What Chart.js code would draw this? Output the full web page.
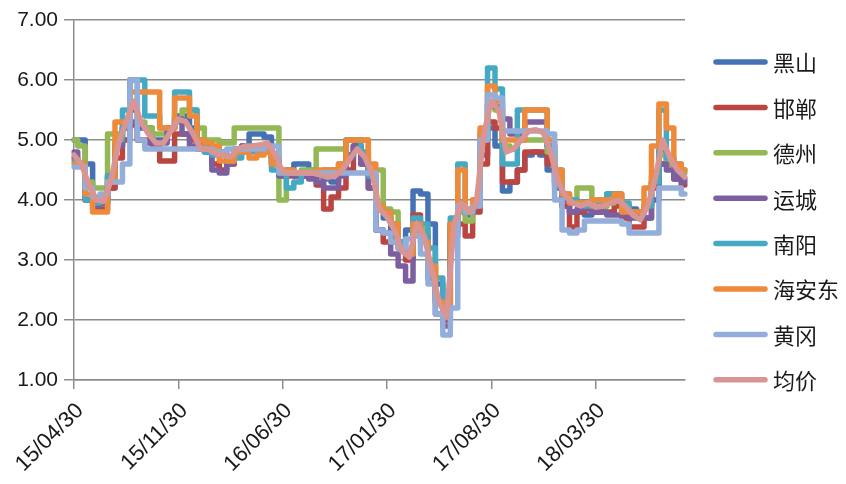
<!DOCTYPE html>
<html>
<head>
<meta charset="utf-8">
<script src="https://cdn.jsdelivr.net/npm/chart.js@4/dist/chart.umd.min.js"></script>
<style>
  html, body { margin: 0; padding: 0; background: #fff; }
  #wrap { width: 846px; height: 484px; position: relative; }
</style>
</head>
<body>
<div id="wrap"><canvas id="priceChart"></canvas></div>
<script>
// ── Data: semi-monthly samples, 15/04/30 .. 18/09/30 ──────────────
const LABELS = [
  '15/04/30','15/05/15','15/05/30','15/06/15','15/06/30','15/07/15','15/07/30','15/08/15','15/08/30','15/09/15',
  '15/09/30','15/10/15','15/10/30','15/11/15','15/11/30','15/12/15','15/12/30','16/01/15','16/01/30','16/02/15',
  '16/02/28','16/03/15','16/03/30','16/04/15','16/04/30','16/05/15','16/05/30','16/06/15','16/06/30','16/07/15',
  '16/07/30','16/08/15','16/08/30','16/09/15','16/09/30','16/10/15','16/10/30','16/11/15','16/11/30','16/12/15',
  '16/12/30','17/01/15','17/01/30','17/02/15','17/02/28','17/03/15','17/03/30','17/04/15','17/04/30','17/05/15',
  '17/05/30','17/06/15','17/06/30','17/07/15','17/07/30','17/08/15','17/08/30','17/09/15','17/09/30','17/10/15',
  '17/10/30','17/11/15','17/11/30','17/12/15','17/12/30','18/01/15','18/01/30','18/02/15','18/02/28','18/03/15',
  '18/03/30','18/04/15','18/04/30','18/05/15','18/05/30','18/06/15','18/06/30','18/07/15','18/07/30','18/08/15',
  '18/08/30','18/09/15','18/09/30'
];
const TICK_LABELS = ['15/04/30','15/11/30','16/06/30','17/01/30','17/08/30','18/03/30'];

const SERIES_NAMES = ['黑山','邯郸','德州','运城','南阳','海安东','黄冈','均价'];

const HEISHAN = [
  5.0, 5.0, 4.6, 4.0, 3.95, 4.2, 4.9, 5.2, 5.5, 5.2,
  5.2, 5.0, 5.0, 5.2, 5.4, 5.4, 5.2, 5.0, 4.9, 4.8,
  4.8, 4.7, 4.85, 4.9, 5.1, 5.1, 5.05, 4.7, 4.4, 4.5,
  4.6, 4.6, 4.5, 4.4, 4.35, 4.3, 4.5, 4.75, 4.9, 4.7,
  4.4, 3.9, 3.7, 3.4, 3.3, 3.5, 4.15, 4.1, 3.6, 2.6,
  2.0, 3.4, 3.9, 3.75, 3.9, 4.75, 5.2, 4.9, 4.15, 4.3,
  4.5, 4.75, 4.8, 4.75, 4.5, 4.2, 3.9, 3.8, 3.8, 3.75,
  3.8, 3.9, 4.1, 4.1, 3.9, 3.85, 3.8, 3.9, 4.3, 4.8,
  4.6, 4.4, 4.35
];
const HANDAN = [
  4.7, 4.6, 4.0, 3.85, 3.85, 4.2, 4.7, 5.0, 5.25, 5.0,
  5.0, 4.9, 4.65, 4.65, 5.1, 5.1, 5.0, 4.9, 4.85, 4.6,
  4.5, 4.6, 4.8, 4.8, 4.85, 4.85, 4.9, 4.7, 4.45, 4.4,
  4.4, 4.4, 4.4, 4.25, 3.85, 4.05, 4.2, 4.5, 4.9, 4.6,
  4.2, 3.5, 3.3, 3.3, 3.2, 3.0, 3.75, 3.5, 2.9, 2.3,
  2.0, 3.6, 3.6, 3.4, 3.8, 4.6, 5.3, 5.2, 4.3, 4.3,
  4.5, 4.8, 4.8, 4.8, 4.6, 4.3, 3.9, 3.55, 3.8, 3.85,
  3.8, 3.8, 3.8, 3.9, 3.7, 3.55, 3.55, 3.7, 4.2, 4.6,
  4.6, 4.35, 4.25
];
const DEZHOU = [
  5.0, 4.9, 4.3, 4.2, 4.2, 5.1, 5.1, 5.3, 6.0, 5.3,
  5.2, 5.1, 5.1, 5.2, 5.3, 5.5, 5.5, 5.2, 5.0, 5.0,
  4.95, 4.95, 5.2, 5.2, 5.2, 5.2, 5.2, 5.2, 4.0, 4.45,
  4.45, 4.5, 4.5, 4.85, 4.85, 4.85, 4.85, 5.0, 5.0, 5.0,
  4.5, 4.5, 3.85, 3.8, 3.3, 3.1, 3.6, 3.5, 3.0, 2.4,
  2.05, 3.6, 3.8, 3.65, 3.9, 5.0, 5.6, 5.5, 4.9, 4.85,
  5.0, 5.0, 5.0, 5.0, 4.8, 4.4, 4.05, 4.0, 4.2, 4.2,
  4.0, 3.9, 3.95, 4.0, 3.9, 3.8, 3.7, 3.9, 4.4, 4.75,
  4.6, 4.5, 4.45
];
const YUNCHENG = [
  4.8, 4.6, 4.0, 3.9, 3.95, 4.4, 4.9, 5.2, 5.3, 5.0,
  4.95, 4.95, 4.95, 5.2, 5.35, 5.1, 4.9, 4.85, 4.8, 4.5,
  4.45, 4.6, 4.8, 4.9, 4.9, 4.9, 4.9, 4.6, 4.4, 4.45,
  4.4, 4.4, 4.35, 4.3, 4.2, 4.2, 4.4, 4.7, 4.9, 4.6,
  4.2, 3.5, 3.45, 3.1, 2.9, 2.65, 3.5, 3.4, 2.7, 2.1,
  1.9, 3.5, 3.95, 3.8, 3.9, 5.0, 5.6, 5.55, 5.35, 5.1,
  5.1, 5.3, 5.3, 5.3, 4.9, 4.3, 4.0, 3.8, 3.85, 3.9,
  3.8, 3.8, 3.75, 3.75, 3.75, 3.7, 3.7, 3.7, 4.0, 4.6,
  4.5, 4.35, 4.3
];
const NANYANG = [
  4.65, 4.6, 4.0, 3.95, 4.0, 4.4, 5.0, 5.5, 6.0, 6.0,
  5.4, 5.4, 5.2, 5.2, 5.8, 5.8, 5.5, 5.0, 4.8, 4.75,
  4.75, 4.65, 4.7, 4.8, 4.8, 4.8, 4.8, 4.5, 4.45, 4.2,
  4.3, 4.45, 4.45, 4.45, 4.5, 4.5, 4.6, 5.0, 5.0, 4.8,
  4.4, 3.9, 3.8, 3.6, 3.3, 3.1, 3.7, 3.6, 3.2, 2.7,
  2.1, 3.7, 4.6, 3.8, 4.0, 5.1, 6.2, 5.85, 4.6, 4.6,
  5.5, 5.5, 5.5, 5.5, 4.9, 4.5, 4.1, 4.0, 3.95, 3.9,
  3.9, 4.0, 4.1, 4.0, 3.95, 3.8, 3.8, 3.9, 4.3, 5.5,
  4.7, 4.6, 4.5
];
const HAIANDONG = [
  4.6, 4.6, 4.1, 3.8, 3.8, 4.3, 5.3, 5.3, 5.8, 5.8,
  5.8, 5.8, 5.2, 5.2, 5.7, 5.7, 5.4, 5.0, 4.95, 4.9,
  4.65, 4.65, 4.8, 4.8, 4.7, 4.75, 4.8, 4.6, 4.5, 4.5,
  4.45, 4.45, 4.45, 4.5, 4.5, 4.5, 4.6, 5.0, 5.0, 5.0,
  4.6, 3.9, 3.8, 3.6, 3.2, 3.1, 3.6, 3.3, 2.9, 2.3,
  2.15, 3.6, 4.5, 3.85, 4.0, 5.2, 5.9, 5.65, 5.0, 5.0,
  5.0, 5.5, 5.5, 5.5, 5.0, 4.5, 4.1, 3.95, 3.95, 3.95,
  4.0, 4.0, 4.0, 4.1, 3.8, 3.8, 3.8, 4.2, 4.9, 5.6,
  5.2, 4.6, 4.5
];
const HUANGGANG = [
  4.55, 4.55, 4.2, 4.05, 4.1, 4.3, 4.3, 4.6, 6.0, 5.0,
  4.85, 4.85, 4.85, 4.85, 4.85, 4.85, 4.85, 4.85, 4.85, 4.8,
  4.8, 4.85, 4.85, 4.85, 4.85, 4.85, 4.9, 4.9, 4.45, 4.45,
  4.45, 4.45, 4.45, 4.45, 4.45, 4.45, 4.45, 4.45, 4.45, 4.45,
  4.45, 3.5, 3.45, 3.3, 3.2, 3.35, 3.4, 3.1, 2.6, 2.1,
  1.75, 2.2, 3.9, 3.8, 3.9, 5.0, 5.75, 5.7, 5.15, 5.15,
  5.15, 5.15, 5.15, 5.15, 5.1, 4.0, 3.5, 3.45, 3.5, 3.65,
  3.65, 3.65, 3.65, 3.65, 3.6, 3.45, 3.45, 3.45, 3.45, 4.2,
  4.2, 4.2, 4.1
];
const JUNJIA = [
  4.75, 4.6, 4.25, 4.0, 3.98, 4.35, 4.95, 5.3, 5.65, 5.3,
  5.1, 4.95, 4.95, 5.15, 5.35, 5.3, 5.1, 4.85, 4.85, 4.77,
  4.75, 4.72, 4.85, 4.9, 4.9, 4.92, 4.95, 4.75, 4.47, 4.45,
  4.45, 4.45, 4.45, 4.42, 4.38, 4.4, 4.5, 4.68, 4.85, 4.72,
  4.45, 3.85, 3.72, 3.5, 3.15, 3.05, 3.6, 3.4, 2.85, 2.3,
  2.05, 3.6, 3.95, 3.8, 3.95, 5.1, 5.65, 5.5, 4.8, 4.85,
  5.0, 5.15, 5.17, 5.12, 4.78, 4.3, 4.05, 3.95, 3.9, 3.95,
  3.88, 3.9, 3.95, 4.0, 3.9, 3.75, 3.67, 3.9, 4.35, 5.0,
  4.7, 4.5, 4.38
];

const SERIES = [HEISHAN, HANDAN, DEZHOU, YUNCHENG, NANYANG, HAIANDONG, HUANGGANG, JUNJIA];
const COLORS = ['#4472B4','#BB4541','#93B855','#7B5FA0','#45A9C4','#EF8A3A','#93AEDA','#D99593'];

const GRID = '#8c8c8c';
const TEXT = '#1a1a1a';
const NUM_FONT = { family: '"Liberation Sans", Arial, sans-serif', size: 21 };
const LINE_W = 5.5;

// ── Legend drawn on the right, one row per series ─────────────────
const sideLegend = {
  id: 'sideLegend',
  afterDraw(chart) {
    const c = chart.ctx;
    c.save();
    c.font = '22px "Noto Sans CJK SC", sans-serif';
    c.textBaseline = 'middle';
    c.textAlign = 'left';
    chart.data.datasets.forEach((ds, i) => {
      const y = 62 + i * 45.4;
      c.strokeStyle = ds.borderColor;
      c.lineWidth = LINE_W;
      c.lineCap = 'round';
      c.beginPath();
      c.moveTo(716, y);
      c.lineTo(765, y);
      c.stroke();
      c.fillStyle = TEXT;
      c.fillText(ds.label, 773, y + 1);
    });
    c.restore();
  }
};

new Chart(document.getElementById('priceChart'), {
  type: 'line',
  data: {
    labels: LABELS,
    datasets: SERIES.map((vals, i) => ({
      label: SERIES_NAMES[i],
      data: vals,
      borderColor: COLORS[i],
      backgroundColor: COLORS[i],
      borderWidth: LINE_W,
      borderCapStyle: 'round',
      borderJoinStyle: 'round',
      pointRadius: 0,
      stepped: i === 7 ? false : 'middle',
      tension: 0,
      order: SERIES.length - i   // later series drawn on top
    }))
  },
  options: {
    responsive: true,
    maintainAspectRatio: false,
    animation: false,
    layout: { padding: { top: 20, right: 161, left: 0, bottom: 0 } },
    plugins: {
      legend: { display: false },
      tooltip: { enabled: false }
    },
    scales: {
      x: {
        type: 'category',
        afterFit: s => { s.height = 104; },
        grid: {
          drawOnChartArea: false,
          drawTicks: true,
          tickLength: 9,
          lineWidth: 1.5,
          color: ctx => TICK_LABELS.includes(LABELS[ctx.index]) ? GRID : 'rgba(0,0,0,0)'
        },
        border: { display: true, color: GRID, width: 1.5 },
        ticks: {
          autoSkip: false,
          minRotation: 45,
          maxRotation: 45,
          padding: 9,
          labelOffset: 6,
          color: TEXT,
          font: { family: NUM_FONT.family, size: 22 },
          callback: (v, i) => TICK_LABELS.includes(LABELS[i]) ? LABELS[i] : ''
        }
      },
      y: {
        min: 1,
        max: 7,
        afterFit: s => { s.width = 74; },
        grid: { color: GRID, lineWidth: 1.5, tickLength: 10 },
        border: { display: true, color: GRID, width: 1.5 },
        ticks: {
          stepSize: 1,
          padding: 6,
          color: TEXT,
          font: NUM_FONT,
          callback: v => v.toFixed(2)
        }
      }
    }
  },
  plugins: [sideLegend]
});
</script>
</body>
</html>
